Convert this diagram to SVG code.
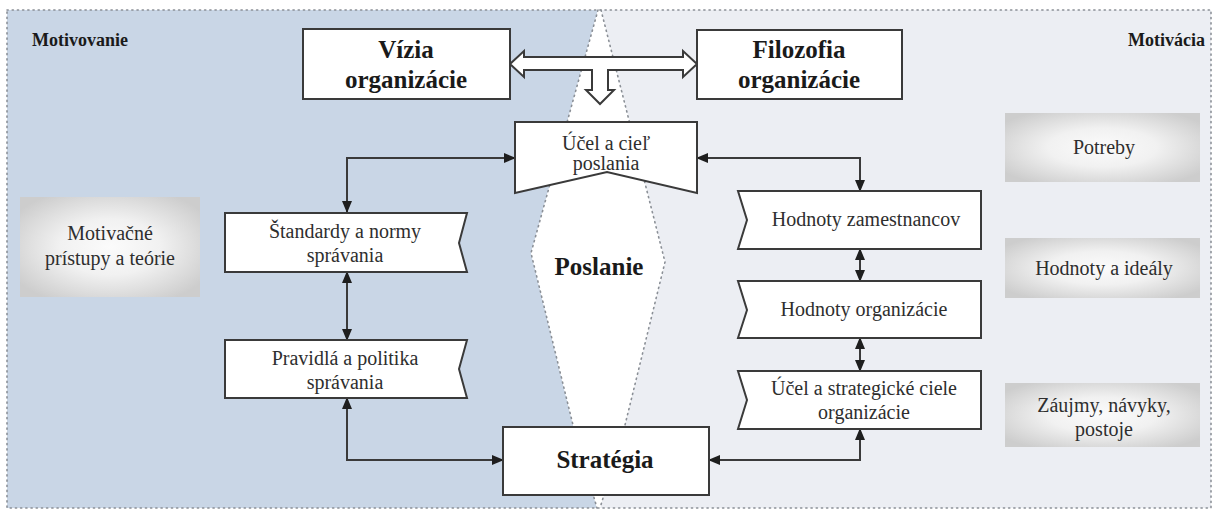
<svg xmlns="http://www.w3.org/2000/svg" width="1215" height="512" viewBox="0 0 1215 512">
  <defs>
    <style>
      .box { fill: #ffffff; stroke: #3a3a3a; stroke-width: 2; }
      .conn { fill: none; stroke: #3a3a3a; stroke-width: 2; }
      .dots { fill: none; stroke: #8a8f96; stroke-width: 1.6; stroke-dasharray: 1.2 4; stroke-linecap: round; }
      .t { font-family: "Liberation Serif", "Times New Roman", serif; font-size: 20px; fill: #2e2e2e; text-anchor: middle; }
      .tb { font-family: "Liberation Serif", "Times New Roman", serif; font-size: 25px; font-weight: bold; fill: #1a1a1a; text-anchor: middle; }
      .side { font-family: "Liberation Serif", "Times New Roman", serif; font-size: 18px; font-weight: bold; fill: #1a1a1a; }
      .soft { fill: url(#softGray); }
    </style>
    <radialGradient id="softGray" cx="50%" cy="50%" r="62%">
      <stop offset="0" stop-color="#fbfbfb"/>
      <stop offset="0.45" stop-color="#f1f1f1"/>
      <stop offset="1" stop-color="#cdcdcd"/>
    </radialGradient>
    <marker id="arr" viewBox="0 0 12 12" refX="11" refY="6" markerWidth="12" markerHeight="12" markerUnits="userSpaceOnUse" orient="auto-start-reverse">
      <path d="M0,1 L12,6 L0,11 Z" fill="#1e1e1e"/>
    </marker>
  </defs>

  <!-- background zones -->
  <g id="zones">
    <rect x="0" y="0" width="1215" height="512" fill="#ffffff"/>
    <polygon points="601,10 1211,10 1211,508 600,508 625,425 665,262" fill="#eceef3"/>
    <polygon points="7,10 598,10 531,253 573,425 597,508 7,508" fill="#c9d6e6"/>
    <polygon points="598,10 601,10 665,262 625,425 600,508 597,508 573,425 531,253" fill="#ffffff"/>
    <rect x="7" y="10" width="1204" height="498" class="dots"/>
    <polyline points="598,10 531,253 573,425 597,508" class="dots"/>
    <polyline points="601,10 665,262 625,425 600,508" class="dots"/>
  </g>

  <g id="zone-labels">
    <text class="side" x="32" y="46">Motivovanie</text>
    <text class="side" x="1205" y="46" text-anchor="end">Motivácia</text>
  </g>

  <!-- connectors -->
  <g id="connectors">
    <polygon points="510,64 524,51 524,57 683,57 683,51 697,64 683,77 683,70 608,70 608,90 614,90 600,104 586,90 592,90 592,70 524,70 524,77" fill="#ffffff" stroke="#3a3a3a" stroke-width="2" stroke-linejoin="miter"/>
    <polyline class="conn" points="347,212 347,158 515,158" marker-start="url(#arr)" marker-end="url(#arr)"/>
    <polyline class="conn" points="697,158 860,158 860,191" marker-start="url(#arr)" marker-end="url(#arr)"/>
    <line class="conn" x1="347" y1="272" x2="347" y2="340" marker-start="url(#arr)" marker-end="url(#arr)"/>
    <polyline class="conn" points="347,398 347,460 503,460" marker-start="url(#arr)" marker-end="url(#arr)"/>
    <polyline class="conn" points="709,460 860,460 860,429" marker-start="url(#arr)" marker-end="url(#arr)"/>
    <line class="conn" x1="860" y1="249" x2="860" y2="281" marker-start="url(#arr)" marker-end="url(#arr)"/>
    <line class="conn" x1="860" y1="338" x2="860" y2="371" marker-start="url(#arr)" marker-end="url(#arr)"/>
  </g>

  <g id="vizia">
    <rect class="box" x="303" y="29" width="207" height="70"/>
    <text class="tb" x="406" y="58">Vízia</text>
    <text class="tb" x="406" y="88">organizácie</text>
  </g>

  <g id="filozofia">
    <rect class="box" x="697" y="30" width="205" height="69"/>
    <text class="tb" x="799" y="58">Filozofia</text>
    <text class="tb" x="799" y="88">organizácie</text>
  </g>

  <g id="ucel-poslania">
    <polygon class="box" points="515,122 697,122 697,193 607,172 515,193"/>
    <text class="t" x="606" y="150">Účel a cieľ</text>
    <text class="t" x="606" y="170">poslania</text>
  </g>

  <g id="poslanie">
    <text class="tb" x="599" y="275">Poslanie</text>
  </g>

  <g id="standardy">
    <polygon class="box" points="225,213 467,213 459,243 467,272 225,272"/>
    <text class="t" x="345" y="238">Štandardy a normy</text>
    <text class="t" x="345" y="262">správania</text>
  </g>

  <g id="pravidla">
    <polygon class="box" points="225,340 467,340 459,369 467,398 225,398"/>
    <text class="t" x="345" y="365">Pravidlá a politika</text>
    <text class="t" x="345" y="389">správania</text>
  </g>

  <g id="strategia">
    <rect class="box" x="503" y="427" width="206" height="68"/>
    <text class="tb" x="605" y="468">Stratégia</text>
  </g>

  <g id="hodnoty-zamestnancov">
    <polygon class="box" points="738,191 981,191 981,249 738,249 747,220"/>
    <text class="t" x="866" y="226">Hodnoty zamestnancov</text>
  </g>

  <g id="hodnoty-organizacie">
    <polygon class="box" points="738,281 981,281 981,338 738,338 747,310"/>
    <text class="t" x="864" y="316">Hodnoty organizácie</text>
  </g>

  <g id="ucel-strategicke">
    <polygon class="box" points="738,371 981,371 981,429 738,429 747,400"/>
    <text class="t" x="864" y="395">Účel a strategické ciele</text>
    <text class="t" x="864" y="419">organizácie</text>
  </g>

  <g id="motivacne-pristupy">
    <rect class="soft" x="20" y="197" width="180" height="100"/>
    <text class="t" x="110" y="240">Motivačné</text>
    <text class="t" x="110" y="265">prístupy a teórie</text>
  </g>

  <g id="potreby">
    <rect class="soft" x="1005" y="113" width="195" height="69"/>
    <text class="t" x="1104" y="154">Potreby</text>
  </g>

  <g id="hodnoty-idealy">
    <rect class="soft" x="1005" y="238" width="195" height="60"/>
    <text class="t" x="1104" y="275">Hodnoty a ideály</text>
  </g>

  <g id="zaujmy">
    <rect class="soft" x="1005" y="383" width="195" height="64"/>
    <text class="t" x="1104" y="412">Záujmy, návyky,</text>
    <text class="t" x="1104" y="436">postoje</text>
  </g>
</svg>
